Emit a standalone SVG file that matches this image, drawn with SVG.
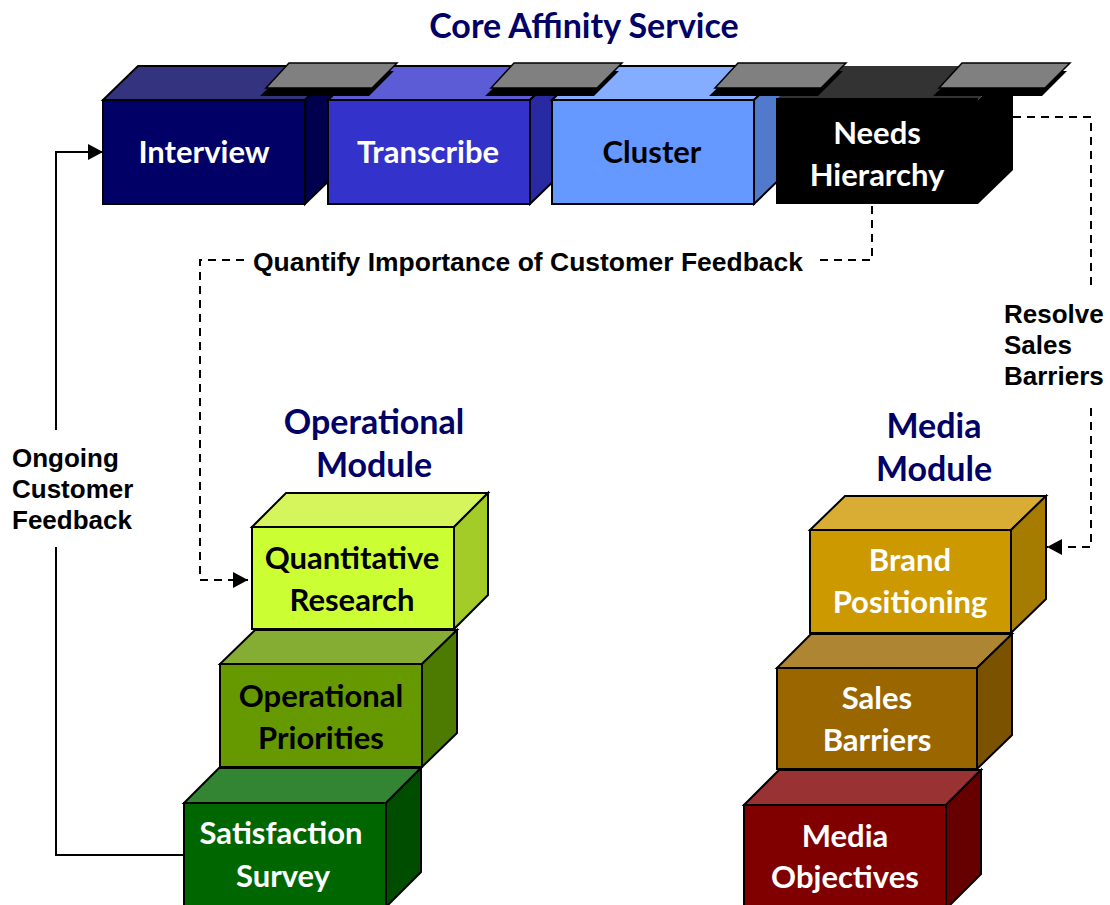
<svg xmlns="http://www.w3.org/2000/svg" width="1110" height="905" viewBox="0 0 1110 905">
<defs>
<style>
.e{stroke:#000;stroke-width:2;stroke-linejoin:miter}
.lbl{font-family:"Lato","Open Sans",sans-serif;font-weight:bold;font-size:31px;text-anchor:middle}
.ttl{font-family:"Lato","Open Sans",sans-serif;font-weight:bold;font-size:34px;text-anchor:middle;fill:#000066}
.note{font-family:"Liberation Sans",Arial,sans-serif;font-weight:bold;font-size:26px;fill:#000}
.w{fill:#fff}
.k{fill:#000}
.solid{fill:none;stroke:#000;stroke-width:2}
.dash{fill:none;stroke:#000;stroke-width:2;stroke-dasharray:8 6}
</style>
<marker id="ah" markerUnits="userSpaceOnUse" markerWidth="16" markerHeight="16" refX="15" refY="8" orient="auto">
<path d="M0,0 L15,8 L0,16 Z" fill="#000"/>
</marker>
</defs>
<rect width="1110" height="905" fill="#fff"/>

<text class="ttl" x="584" y="38">Core Affinity Service</text>
<text class="ttl" x="374" y="434">Operational</text>
<text class="ttl" x="374" y="477">Module</text>
<text class="ttl" x="934" y="438">Media</text>
<text class="ttl" x="934" y="481">Module</text>

<g id="connectors">
<path class="solid" d="M184,855 H56 V547"/>
<path class="solid" d="M56,430 V152 H103" marker-end="url(#ah)"/>
<path class="dash" d="M872,206 V260 H818"/>
<path class="dash" d="M244,260 H200 V580 H248" marker-end="url(#ah)"/>
<path class="dash" d="M1013,117 H1091 V288"/>
<path class="dash" d="M1091,408 V547 H1047" marker-end="url(#ah)"/>
<text class="note" x="253" y="271" textLength="550" lengthAdjust="spacingAndGlyphs">Quantify Importance of Customer Feedback</text>
<text class="note" x="12" y="467">Ongoing</text>
<text class="note" x="12" y="498">Customer</text>
<text class="note" x="12" y="529">Feedback</text>
<text class="note" x="1004" y="323">Resolve</text>
<text class="note" x="1004" y="354">Sales</text>
<text class="note" x="1004" y="385">Barriers</text>
</g>

<g id="interview">
<polygon class="e" points="103,100 138,66 340,66 305,100" fill="#333380"/>
<polygon class="e" points="305,100 340,66 340,170 305,204" fill="#00004D"/>
<rect class="e" x="103" y="100" width="202" height="104" fill="#000066"/>
<text class="lbl w" x="204" y="163">Interview</text>
</g>
<g id="transcribe">
<polygon class="e" points="328,100 363,66 565,66 530,100" fill="#5C5CD6"/>
<polygon class="e" points="530,100 565,66 565,170 530,204" fill="#2929A3"/>
<rect class="e" x="328" y="100" width="202" height="104" fill="#3333CC"/>
<text class="lbl w" x="428" y="163">Transcribe</text>
</g>
<g id="cluster">
<polygon class="e" points="552,100 587,66 789,66 754,100" fill="#85ADFF"/>
<polygon class="e" points="754,100 789,66 789,170 754,204" fill="#527ACC"/>
<rect class="e" x="552" y="100" width="202" height="104" fill="#6699FF"/>
<text class="lbl k" x="652" y="163">Cluster</text>
</g>
<g id="needs-hierarchy">
<polygon points="776,100 811,66 1013,66 978,100" fill="#333333"/>
<polygon points="978,100 1013,66 1013,170 978,204" fill="#000"/>
<rect x="776" y="98" width="202" height="106" fill="#000"/>
<text class="lbl w" x="877" y="144">Needs</text>
<text class="lbl w" x="877" y="186">Hierarchy</text>
</g>

<g id="plates">
<polygon points="286,71 394,71 369,96 260,96" fill="#000"/>
<polygon points="289,63 397,63 372,88 266,88" fill="#808080" stroke="#000" stroke-width="1.5"/>
<polygon points="511,71 619,71 594,96 485,96" fill="#000"/>
<polygon points="514,63 622,63 597,88 491,88" fill="#808080" stroke="#000" stroke-width="1.5"/>
<polygon points="735,71 843,71 818,96 709,96" fill="#000"/>
<polygon points="738,63 846,63 821,88 715,88" fill="#808080" stroke="#000" stroke-width="1.5"/>
<polygon points="959,71 1067,71 1042,96 933,96" fill="#000"/>
<polygon points="962,63 1070,63 1045,88 939,88" fill="#808080" stroke="#000" stroke-width="1.5"/>
</g>

<g id="quantitative-research">
<polygon class="e" points="252,527 286,493 488,493 454,527" fill="#D6F55C"/>
<polygon class="e" points="454,527 488,493 488,595 454,629" fill="#A3CC29"/>
<rect class="e" x="252" y="527" width="202" height="102" fill="#CCFF33"/>
<text class="lbl k" x="352" y="569">Quantitative</text>
<text class="lbl k" x="352" y="611">Research</text>
</g>
<g id="operational-priorities">
<polygon class="e" points="220,664 255,630 457,630 422,664" fill="#85AD33"/>
<polygon class="e" points="422,664 457,630 457,733 422,767" fill="#4D7A00"/>
<rect class="e" x="220" y="664" width="202" height="103" fill="#669900"/>
<text class="lbl k" x="321" y="707">Operational</text>
<text class="lbl k" x="321" y="749">Priorities</text>
</g>
<g id="satisfaction-survey">
<polygon class="e" points="184,803 219,768 421,768 386,803" fill="#338533"/>
<polygon class="e" points="386,803 421,768 421,872 386,907" fill="#004D00"/>
<rect class="e" x="184" y="803" width="202" height="110" fill="#006600"/>
<text class="lbl w" x="281" y="844">Satisfaction</text>
<text class="lbl w" x="283" y="887">Survey</text>
</g>

<g id="brand-positioning">
<polygon class="e" points="810,530 845,496 1046,496 1011,530" fill="#D9AD33"/>
<polygon class="e" points="1011,530 1046,496 1046,599 1011,633" fill="#A67C00"/>
<rect class="e" x="810" y="530" width="201" height="103" fill="#CC9900"/>
<text class="lbl w" x="910" y="571">Brand</text>
<text class="lbl w" x="910" y="613">Positioning</text>
</g>
<g id="sales-barriers">
<polygon class="e" points="777,668 811,634 1012,634 977,668" fill="#AD8533"/>
<polygon class="e" points="977,668 1012,634 1012,735 977,769" fill="#7A5200"/>
<rect class="e" x="777" y="668" width="200" height="101" fill="#996600"/>
<text class="lbl w" x="877" y="709">Sales</text>
<text class="lbl w" x="877" y="751">Barriers</text>
</g>
<g id="media-objectives">
<polygon class="e" points="744,805 779,770 981,770 946,805" fill="#993333"/>
<polygon class="e" points="946,805 981,770 981,874 946,909" fill="#660000"/>
<rect class="e" x="744" y="805" width="202" height="110" fill="#800000"/>
<text class="lbl w" x="845" y="847">Media</text>
<text class="lbl w" x="845" y="888">Objectives</text>
</g>
</svg>
